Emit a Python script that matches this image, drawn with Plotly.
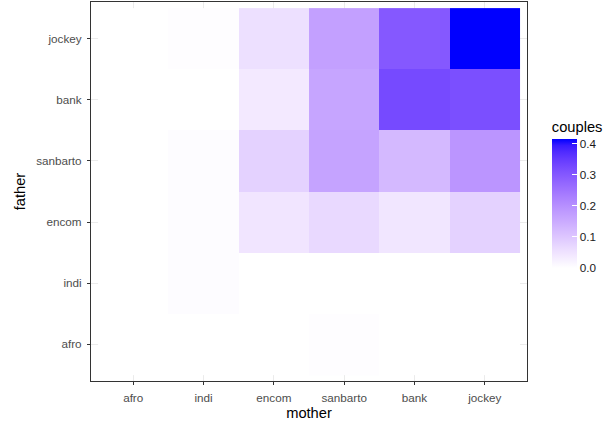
import numpy as np
import plotly.graph_objects as go

# Occupational categories (same order for both parents)
mother = ["afro", "indi", "encom", "sanbarto", "bank", "jockey"]
father = ["afro", "indi", "encom", "sanbarto", "bank", "jockey"]

# Share of couples for each father (rows) x mother (columns) pair
couples_afro = [0.0, 0.0, 0.0, 0.004, 0.0, 0.0]
couples_indi = [0.0, 0.005, 0.0, 0.0, 0.0, 0.0]
couples_encom = [0.0, 0.006, 0.045, 0.068, 0.044, 0.080]
couples_sanbarto = [0.0, 0.006, 0.080, 0.165, 0.125, 0.190]
couples_bank = [0.0, 0.0, 0.038, 0.160, 0.325, 0.317]
couples_jockey = [0.0, 0.004, 0.055, 0.170, 0.300, 0.416]

z = [couples_afro, couples_indi, couples_encom,
     couples_sanbarto, couples_bank, couples_jockey]


# --- white -> blue gradient interpolated in CIE Lab space ---
def srgb_to_lab(rgb):
    c = np.asarray(rgb, float) / 255.0
    lin = np.where(c <= 0.04045, c / 12.92, ((c + 0.055) / 1.055) ** 2.4)
    m = np.array([[0.4124, 0.3576, 0.1805],
                  [0.2126, 0.7152, 0.0722],
                  [0.0193, 0.1192, 0.9505]])
    xyz = m @ lin / np.array([0.95047, 1.0, 1.08883])
    f = np.where(xyz > 0.008856, np.cbrt(xyz), 7.787 * xyz + 16 / 116)
    return np.array([116 * f[1] - 16, 500 * (f[0] - f[1]), 200 * (f[1] - f[2])])


def lab_to_srgb(lab):
    L, a, b = lab
    fy = (L + 16) / 116
    fx = fy + a / 500
    fz = fy - b / 200
    f = np.array([fx, fy, fz])
    xyz = np.where(f ** 3 > 0.008856, f ** 3, (f - 16 / 116) / 7.787)
    xyz = xyz * np.array([0.95047, 1.0, 1.08883])
    m = np.array([[3.2406, -1.5372, -0.4986],
                  [-0.9689, 1.8758, 0.0415],
                  [0.0557, -0.2040, 1.0570]])
    lin = np.clip(m @ xyz, 0, 1)
    c = np.where(lin <= 0.0031308, 12.92 * lin, 1.055 * lin ** (1 / 2.4) - 0.055)
    return np.clip(np.round(c * 255), 0, 255).astype(int)


low = srgb_to_lab([255, 255, 255])
high = srgb_to_lab([0, 0, 255])
colorscale = []
for t in np.linspace(0, 1, 21):
    r, g, b = lab_to_srgb(low + (high - low) * t)
    colorscale.append([float(t), f"rgb({r},{g},{b})"])

zmax = max(v for row in z for v in row)

fig = go.Figure(go.Heatmap(
    x=mother, y=father, z=z,
    zmin=0, zmax=zmax,
    colorscale=colorscale,
    colorbar=dict(
        title=dict(text="couples", side="top",
                   font=dict(size=14.7, color="#000000")),
        thickness=25, len=150, lenmode="pixels",
        x=1.057, xanchor="left", xpad=0,
        y=0.694, yanchor="top", ypad=0,
        outlinewidth=0,
        tickvals=[0, 0.1, 0.2, 0.3, 0.4],
        ticktext=["0.0", "0.1", "0.2", "0.3", "0.4"],
        ticks="inside", ticklen=5, tickcolor="white", tickwidth=1,
        tickfont=dict(size=11.7, color="#1A1A1A"),
    ),
))

axis_common = dict(
    type="category",
    showgrid=True, gridcolor="#EBEBEB", gridwidth=1,
    zeroline=False,
    showline=True, linecolor="#333333", linewidth=1.1, mirror=True,
    ticks="outside", ticklen=3, tickcolor="#333333", tickwidth=1,
    ticklabelstandoff=3,
    tickfont=dict(size=11.7, color="#4D4D4D"),
    range=[-0.6, 5.6],
)

fig.update_xaxes(**axis_common,
                 title=dict(text="mother", font=dict(size=14.7, color="#000000"),
                            standoff=4))
fig.update_yaxes(**axis_common,
                 title=dict(text="father", font=dict(size=14.7, color="#000000"),
                            standoff=6))

fig.update_layout(
    width=608, height=423,
    margin=dict(l=91, r=81, t=2, b=42),
    paper_bgcolor="white", plot_bgcolor="white",
    font=dict(family="Liberation Sans, Arial, sans-serif"),
)

fig.write_html("out.html")
